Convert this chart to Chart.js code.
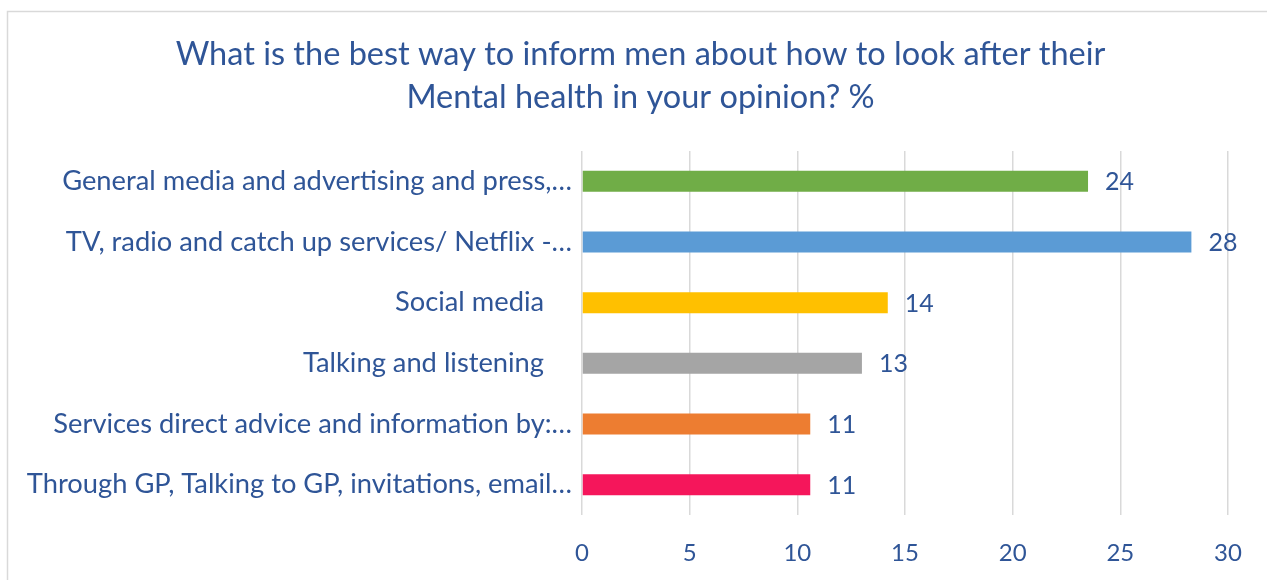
<!DOCTYPE html>
<html>
<head>
<meta charset="utf-8">
<script src="https://cdn.jsdelivr.net/npm/chart.js@4.4.1/dist/chart.umd.min.js"></script>
<style>
  html, body { margin: 0; padding: 0; background: #ffffff; }
  #wrap { width: 1267px; height: 580px; position: relative; }
</style>
</head>
<body>
<div id="wrap"><canvas id="chart"></canvas></div>
<script>
// Survey answers (percent of respondents)
const categories = [
  'General media and advertising and press,…',
  'TV, radio and catch up services/ Netflix -…',
  'Social media    ',
  'Talking and listening    ',
  'Services direct advice and information by:…',
  'Through GP, Talking to GP, invitations, email…'
];
const percentages = [23.5, 28.3, 14.2, 13.0, 10.6, 10.6];
const barColors = ['#70AD47', '#5B9BD5', '#FFC000', '#A5A5A5', '#ED7D31', '#F5165B'];
const xTicks = [0, 5, 10, 15, 20, 25, 30];
const titleLines = [
  'What is the best way to inform men about how to look after their',
  'Mental health in your opinion? %'
];

const TEXT = '#2F5597';
const FONT = 'Lato, "Open Sans", sans-serif';

// Frame lines along the top and left edges of the chart object
const framePlugin = {
  id: 'frame',
  beforeDraw(chart) {
    const ctx = chart.ctx;
    ctx.save();
    ctx.strokeStyle = '#D9D9D9';
    ctx.lineWidth = 1.5;
    ctx.beginPath();
    ctx.moveTo(7.5, chart.height);
    ctx.lineTo(7.5, 11.5);
    ctx.lineTo(chart.width, 11.5);
    ctx.stroke();
    ctx.restore();
  }
};

// Value labels just past the end of each bar, rounded to whole percent
const valueLabels = {
  id: 'valueLabels',
  afterDatasetsDraw(chart) {
    const ctx = chart.ctx;
    const meta = chart.getDatasetMeta(0);
    ctx.save();
    ctx.fillStyle = TEXT;
    ctx.font = '25px ' + FONT;
    ctx.textAlign = 'left';
    ctx.textBaseline = 'middle';
    meta.data.forEach((bar, i) => {
      ctx.fillText(String(Math.round(percentages[i])), bar.x + 17, bar.y + 1);
    });
    ctx.restore();
  }
};

new Chart(document.getElementById('chart'), {
  type: 'bar',
  data: {
    labels: categories,
    datasets: [{
      data: percentages,
      backgroundColor: barColors,
      borderWidth: 0,
      barPercentage: 0.69,
      categoryPercentage: 0.5
    }]
  },
  options: {
    indexAxis: 'y',
    responsive: true,
    maintainAspectRatio: false,
    animation: false,
    layout: { padding: { left: 14, right: 0, top: 0, bottom: 0 } },
    plugins: {
      legend: { display: false },
      tooltip: { enabled: false },
      title: {
        display: true,
        text: titleLines,
        color: TEXT,
        font: { family: FONT, size: 32.5, weight: 'normal', lineHeight: 1.323 },
        padding: { top: 33, bottom: 32 }
      }
    },
    scales: {
      x: {
        type: 'linear',
        min: 0,
        max: 30,
        afterBuildTicks(scale) { scale.ticks = xTicks.map(v => ({ value: v })); },
        afterFit(scale) { scale.height = 65; },
        grid: { display: true, color: '#D9D9D9', lineWidth: 1.5, drawTicks: false },
        border: { display: false },
        ticks: { color: TEXT, font: { family: FONT, size: 24 }, padding: 24 }
      },
      y: {
        afterFit(scale) { scale.width = 568; },
        grid: { display: false, drawTicks: false },
        border: { display: false },
        ticks: { color: TEXT, font: { family: FONT, size: 27.3 }, padding: 10, autoSkip: false }
      },
      // empty margin on the right of the plot
      yRight: {
        type: 'category',
        position: 'right',
        afterFit(scale) { scale.width = 39; },
        grid: { display: false, drawTicks: false },
        border: { display: false },
        ticks: { display: false }
      }
    }
  },
  plugins: [framePlugin, valueLabels]
});
</script>
</body>
</html>
